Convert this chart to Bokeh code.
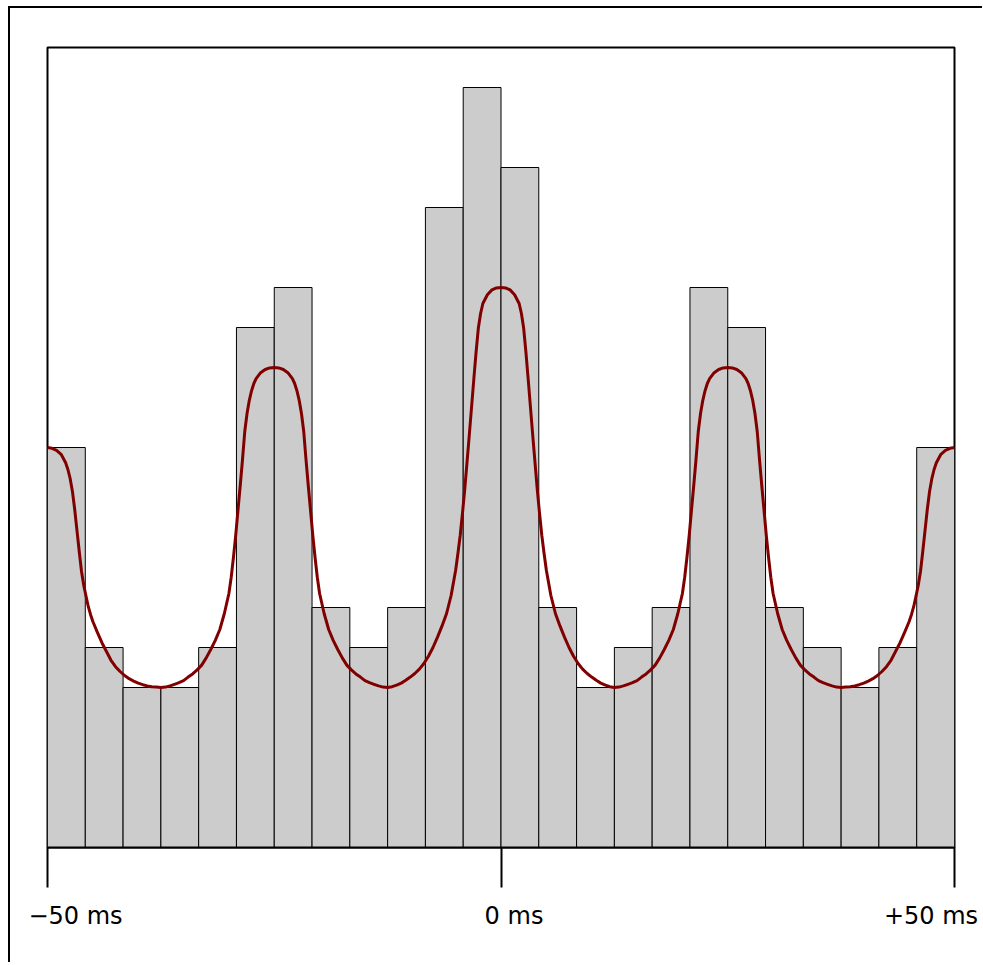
import numpy as np
from bokeh.plotting import figure
from bokeh.models import FixedTicker, LinearAxis, Range1d
from bokeh.embed import file_html
from bokeh.resources import INLINE

# ---- data ----
bin_edges_ms = np.linspace(-50, 50, 25)
counts = [10, 5, 4, 4, 5, 13, 14, 6, 5, 6, 16, 19, 17, 6, 4, 5, 6, 14, 13, 6, 5, 4, 5, 10]

# fitted curve, read as offsets (ms) from each peak and the values at those offsets
curve_offset_ms = [0, 0.5, 1, 1.5, 2, 2.25, 2.5, 2.75, 3, 3.25, 3.5, 3.75, 4, 4.25, 4.5, 4.75,
                   5, 5.5, 6, 6.5, 7, 7.5, 8, 8.5, 9, 9.5, 10, 10.5, 11, 11.5, 12, 12.5]
profile_peak_0 = [14.0, 13.99, 13.94, 13.82, 13.6, 13.35, 12.98, 12.38, 11.7, 11.0, 10.3, 9.62,
                  8.95, 8.35, 7.8, 7.35, 6.93, 6.3, 5.85, 5.54, 5.26, 5.0, 4.78, 4.6, 4.46, 4.35,
                  4.26, 4.18, 4.11, 4.06, 4.02, 4.0]
profile_peak_25 = [12.0, 11.99, 11.95, 11.87, 11.72, 11.6, 11.42, 11.18, 10.85, 10.4, 9.7, 9.05,
                   8.43, 7.8, 7.25, 6.75, 6.35, 5.85, 5.45, 5.18, 4.95, 4.74, 4.56, 4.44, 4.34, 4.26,
                   4.17, 4.12, 4.08, 4.04, 4.01, 4.0]
profile_peak_50 = [10.0, 9.98, 9.93, 9.83, 9.62, 9.45, 9.22, 8.9, 8.45, 7.92, 7.4, 6.9,
                   6.55, 6.28, 6.02, 5.82, 5.65, 5.38, 5.12, 4.9, 4.68, 4.52, 4.4, 4.3, 4.22, 4.16,
                   4.11, 4.07, 4.04, 4.02, 4.01, 4.0]
peak_centers_ms = [-50, -25, 0, 25, 50]
peak_profiles = [profile_peak_50, profile_peak_25, profile_peak_0, profile_peak_25, profile_peak_50]

tick_values = [-50, 0, 50]
tick_labels = ["\u221250 ms", "0 ms", "+50 ms"]
label_offsets_px = [28, 13, -23.5]

# assemble curve from the mirrored peak readings
pts = {}
for c, prof in zip(peak_centers_ms, peak_profiles):
    for d, v in zip(curve_offset_ms, prof):
        for x in (c - d, c + d):
            if -50 <= x <= 50:
                pts[round(x, 4)] = v
curve_x = sorted(pts)
curve_y = [pts[x] for x in curve_x]

FRAME_W, FRAME_H = 907, 800
LEFT, RIGHT, TOP, BOTTOM = 37, 30, 39, 117

p = figure(width=LEFT + FRAME_W + RIGHT, height=TOP + FRAME_H + BOTTOM,
           x_range=Range1d(-50, 50), y_range=Range1d(0, 20),
           output_backend="svg", toolbar_location=None,
           y_axis_location=None,
           min_border_left=LEFT, min_border_top=TOP,
           min_border_right=RIGHT, min_border_bottom=BOTTOM)
p.styles = {"border-left": "2px solid black", "border-top": "2px solid black",
            "margin-left": "8px", "margin-top": "6px"}
p.grid.visible = False
p.background_fill_color = "white"
p.border_fill_color = "white"
p.outline_line_color = "black"
p.outline_line_width = 2

p.quad(left=bin_edges_ms[:-1], right=bin_edges_ms[1:], bottom=0, top=counts,
       fill_color="#cccccc", line_color="black", line_width=1)
p.line(curve_x, curve_y, line_color="#800000", line_width=3, line_join="round")

ax = p.xaxis[0]
ax.ticker = FixedTicker(ticks=tick_values)
ax.major_label_overrides = {t: "" for t in tick_values}
ax.major_label_text_font_size = "1px"
ax.major_label_standoff = 0
ax.axis_line_width = 2
ax.axis_line_color = "black"
ax.major_tick_line_width = 2
ax.major_tick_line_color = "black"
ax.major_tick_out = 40
ax.major_tick_in = 0
ax.minor_tick_line_color = None

# label axis (labels sit slightly off the tick positions in the reference)
px_per_ms = FRAME_W / 100.0
label_pos = [t + o / px_per_ms for t, o in zip(tick_values, label_offsets_px)]
lab_ax = LinearAxis(ticker=FixedTicker(ticks=label_pos),
                    major_label_overrides={lp: s for lp, s in zip(label_pos, tick_labels)},
                    axis_line_color=None, major_tick_line_color=None,
                    minor_tick_line_color=None, major_tick_in=0, major_tick_out=0,
                    major_label_standoff=14,
                    major_label_text_font="DejaVu Sans",
                    major_label_text_font_size="24px",
                    major_label_text_color="black")
p.add_layout(lab_ax, "below")

open("out.html", "w").write(file_html(p, INLINE))
